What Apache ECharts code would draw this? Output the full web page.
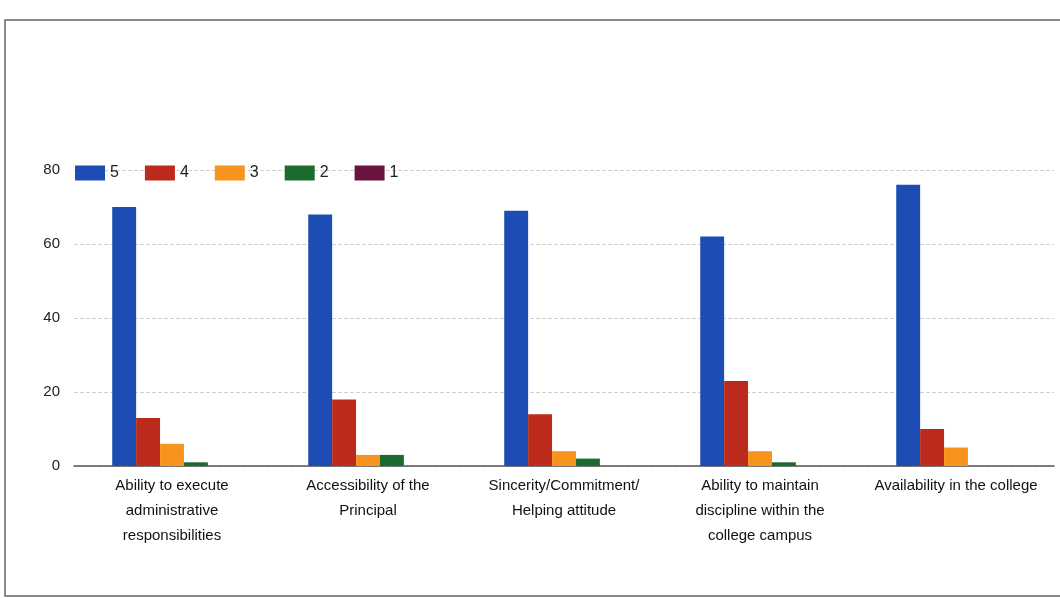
<!DOCTYPE html>
<html>
<head>
<meta charset="utf-8">
<script src="https://cdn.jsdelivr.net/npm/echarts@6/dist/echarts.min.js"></script>
<style>
html,body{margin:0;padding:0;background:#fff;}
#chart{width:1060px;height:598px;}
</style>
</head>
<body>
<div id="chart"></div>
<script>
const categories = [
  "Ability to execute\nadministrative\nresponsibilities",
  "Accessibility of the\nPrincipal",
  "Sincerity/Commitment/\nHelping attitude",
  "Ability to maintain\ndiscipline within the\ncollege campus",
  "Availability in the college"
];
const seriesNames = ["5", "4", "3", "2", "1"];
const values5 = [70, 68, 69, 62, 76];
const values4 = [13, 18, 14, 23, 10];
const values3 = [6, 3, 4, 4, 5];
const values2 = [1, 3, 2, 1, 0];
const values1 = [0, 0, 0, 0, 0];
const yTicks = [0, 20, 40, 60, 80];

const colors = ["#1d4db4", "#bb2a1a", "#f7941d", "#1b6b2e", "#6a1240"];
const allValues = [values5, values4, values3, values2, values1];

const chart = echarts.init(document.getElementById('chart'));
chart.setOption({
  animation: false,
  backgroundColor: '#ffffff',
  color: colors,
  textStyle: { fontFamily: 'Liberation Sans, Arial, sans-serif' },
  graphic: [{
    type: 'rect',
    shape: { x: 5, y: 20, width: 1060, height: 576 },
    style: { fill: 'none', stroke: '#666', lineWidth: 1.5 },
    silent: true
  }],
  legend: {
    left: 70,
    top: 160,
    itemWidth: 30,
    itemHeight: 15,
    itemGap: 26,
    icon: 'rect',
    textStyle: { fontSize: 16, color: '#222' },
    data: seriesNames
  },
  grid: { left: 74, right: 6, top: 170, bottom: 132 },
  xAxis: {
    type: 'category',
    data: categories,
    axisTick: { show: false },
    axisLine: { lineStyle: { color: '#555', width: 1.5 } },
    axisLabel: {
      interval: 0,
      fontSize: 15,
      color: '#111',
      lineHeight: 25,
      margin: 7,
      align: 'center'
    }
  },
  yAxis: {
    type: 'value',
    min: yTicks[0],
    max: yTicks[yTicks.length - 1],
    interval: yTicks[1] - yTicks[0],
    axisLine: { show: false },
    axisTick: { show: false },
    axisLabel: { fontSize: 15, color: '#222', margin: 14 },
    splitLine: { lineStyle: { color: '#cfcfcf', type: 'dashed', width: 1 } }
  },
  series: seriesNames.map((n, i) => ({
    name: n,
    type: 'bar',
    data: allValues[i],
    barGap: '0%',
    barCategoryGap: '39%',
    itemStyle: { color: colors[i] }
  }))
});
</script>
</body>
</html>
